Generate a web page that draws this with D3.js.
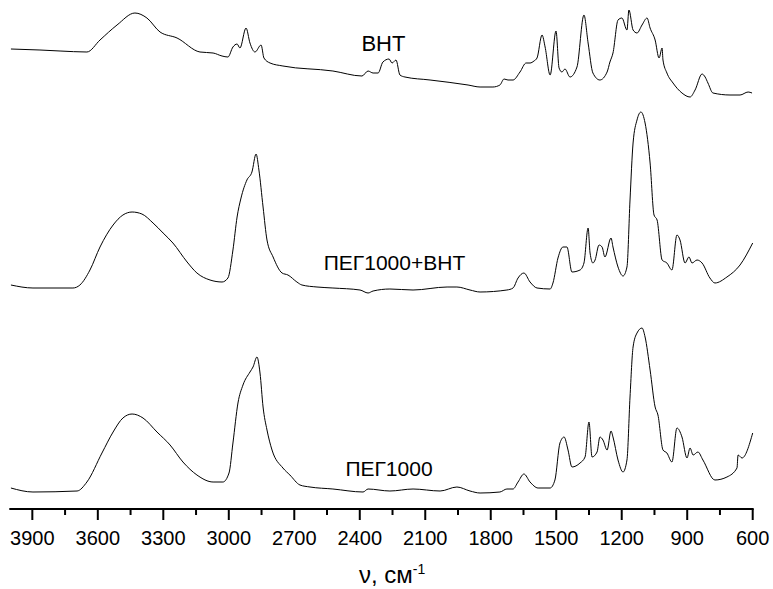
<!DOCTYPE html>
<html>
<head>
<meta charset="utf-8">
<script src="https://cdn.jsdelivr.net/npm/d3@7"></script>
<style>
  body { margin: 0; background: #fff; }
  text { font-family: "Liberation Sans", Arial, sans-serif; fill: #000; }
</style>
</head>
<body>
<div id="chart"></div>
<script>
// IR spectra: BHT, ПЕГ1000+BHT, ПЕГ1000 (stacked, arbitrary intensity units)

const width = 773, height = 589;

// [wavenumber, intensity]
const bht = [
  [3998,460],[3865,459],[3773,458],[3650,457],[3590,469],[3512,484],[3430,496],[3375,491],
  [3315,477],[3237,471],[3132,457],[3072,456],[3031,453],[3004,452],[2981,462],[2962,465],
  [2949,461],[2921,481],[2903,466],[2880,457],[2852,464],[2839,451],[2811,446],[2752,443],
  [2523,438],[2390,433],[2362,438],[2339,436],[2316,436],[2294,447],[2266,450],[2252,446],
  [2234,449],[2216,434],[2193,432],[2078,429],[1904,424],[1849,422],[1790,422],[1758,424],
  [1739,430],[1721,429],[1698,429],[1666,437],[1638,446],[1620,446],[1602,448],[1588,451],
  [1565,474],[1551,462],[1528,434],[1501,478],[1487,441],[1474,437],[1460,440],[1437,432],
  [1405,442],[1373,494],[1354,466],[1332,436],[1300,429],[1267,437],[1254,447],[1240,456],
  [1217,489],[1199,491],[1176,479],[1167,499],[1148,479],[1130,476],[1107,484],[1084,491],
  [1070,481],[1047,469],[1029,451],[1015,461],[1011,449],[993,436],[965,426],[924,416],
  [887,412],[864,419],[832,435],[818,432],[805,426],[782,416],[704,414],[658,414],
  [621,417],[603,416]
];

const pegBht = [
  [3998,224],[3897,221],[3714,221],[3682,224],[3636,239],[3590,262],[3530,284],[3485,294],
  [3443,297],[3398,295],[3347,286],[3301,276],[3256,266],[3191,247],[3146,236],[3086,229],
  [3031,227],[3004,231],[2981,259],[2962,292],[2944,311],[2917,329],[2894,337],[2875,355],
  [2862,339],[2843,302],[2825,269],[2797,252],[2756,236],[2729,234],[2688,227],[2665,224],
  [2596,222],[2523,221],[2399,219],[2362,216],[2339,218],[2262,220],[2156,219],[2000,222],
  [1955,222],[1895,219],[1849,217],[1726,219],[1698,221],[1675,231],[1648,236],[1620,227],
  [1588,221],[1528,220],[1515,226],[1492,251],[1469,262],[1451,262],[1428,237],[1391,239],
  [1373,246],[1354,281],[1345,256],[1332,246],[1322,249],[1304,264],[1290,262],[1277,252],
  [1249,271],[1240,262],[1217,242],[1194,233],[1176,242],[1162,309],[1148,366],[1130,389],
  [1112,397],[1093,386],[1070,346],[1052,294],[1038,289],[1015,249],[993,246],[970,239],
  [947,274],[933,269],[910,246],[892,252],[878,246],[855,249],[832,246],[796,231],
  [773,226],[718,232],[658,244],[600,266]
];

const peg = [
  [3998,21],[3897,17],[3695,18],[3650,27],[3581,56],[3530,77],[3485,91],[3443,95],
  [3393,91],[3329,77],[3269,64],[3210,47],[3146,34],[3072,27],[3027,27],[2999,36],
  [2981,66],[2958,106],[2935,124],[2903,137],[2889,142],[2871,152],[2857,136],[2843,102],
  [2825,79],[2802,59],[2752,41],[2720,34],[2674,24],[2628,22],[2523,20],[2385,17],
  [2362,20],[2262,18],[2156,20],[2032,18],[1955,22],[1895,18],[1849,16],[1758,17],
  [1726,20],[1698,20],[1675,27],[1648,35],[1620,27],[1583,21],[1528,21],[1506,29],
  [1483,66],[1464,72],[1446,59],[1428,42],[1391,46],[1368,52],[1350,87],[1336,52],
  [1313,57],[1300,72],[1286,69],[1267,59],[1249,78],[1240,72],[1217,49],[1194,37],
  [1176,49],[1162,112],[1148,162],[1130,176],[1107,181],[1093,172],[1070,139],[1047,102],
  [1034,94],[1011,59],[993,56],[970,47],[947,81],[924,72],[901,51],[887,61],
  [873,54],[851,57],[828,49],[773,29],[718,32],[672,41],[667,54],[649,51],[600,76]
];

const seriesNames = ["BHT", "ПЕГ1000+BHT", "ПЕГ1000"];
const majorTicks = [3900, 3600, 3300, 3000, 2700, 2400, 2100, 1800, 1500, 1200, 900, 600];
const minorTicks = [3750, 3450, 3150, 2850, 2550, 2250, 1950, 1650, 1350, 1050, 750];

const x = d3.scaleLinear().domain([4000, 600]).range([10.5, 752.7]);
const y = d3.scaleLinear().domain([0, 500]).range([509, 9]);

const svg = d3.select("#chart").append("svg")
  .attr("width", width)
  .attr("height", height);

const line = d3.line()
  .x(d => x(d[0]))
  .y(d => y(d[1]))
  .curve(d3.curveMonotoneX);

[bht, pegBht, peg].forEach(s => {
  svg.append("path")
    .datum(s)
    .attr("d", line)
    .attr("fill", "none")
    .attr("stroke", "#000")
    .attr("stroke-width", 1)
    .attr("stroke-linejoin", "round");
});

// series labels
const labelPos = [
  { x: 383.4, y: 51, size: 22 },
  { x: 394.5, y: 270, size: 21 },
  { x: 389, y: 476, size: 21 }
];
seriesNames.forEach((name, i) => {
  svg.append("text")
    .attr("x", labelPos[i].x)
    .attr("y", labelPos[i].y)
    .attr("text-anchor", "middle")
    .style("font-size", labelPos[i].size + "px")
    .text(name);
});

// bottom axis
const axisY = 509;
const axis = svg.append("g").attr("transform", `translate(0,${axisY})`);

axis.append("line")
  .attr("x1", 9.3).attr("x2", x(600) + 1)
  .attr("stroke", "#000").attr("stroke-width", 2);

axis.selectAll(".major")
  .data(majorTicks)
  .enter().append("line")
  .attr("x1", d => x(d)).attr("x2", d => x(d))
  .attr("y1", 0).attr("y2", 11)
  .attr("stroke", "#000").attr("stroke-width", 2);

axis.selectAll(".minor")
  .data(minorTicks)
  .enter().append("line")
  .attr("x1", d => x(d)).attr("x2", d => x(d))
  .attr("y1", 0).attr("y2", 6)
  .attr("stroke", "#000").attr("stroke-width", 2);

axis.selectAll(".tick-label")
  .data(majorTicks)
  .enter().append("text")
  .attr("x", d => x(d))
  .attr("y", 36)
  .attr("text-anchor", "middle")
  .style("font-size", "20px")
  .text(d => d);

// axis title
const title = svg.append("text")
  .attr("x", 359)
  .attr("y", 583)
  .style("font-size", "24px");
title.append("tspan").text("ν, см");
title.append("tspan")
  .attr("dy", -9)
  .style("font-size", "14px")
  .text("-1");
</script>
</body>
</html>
